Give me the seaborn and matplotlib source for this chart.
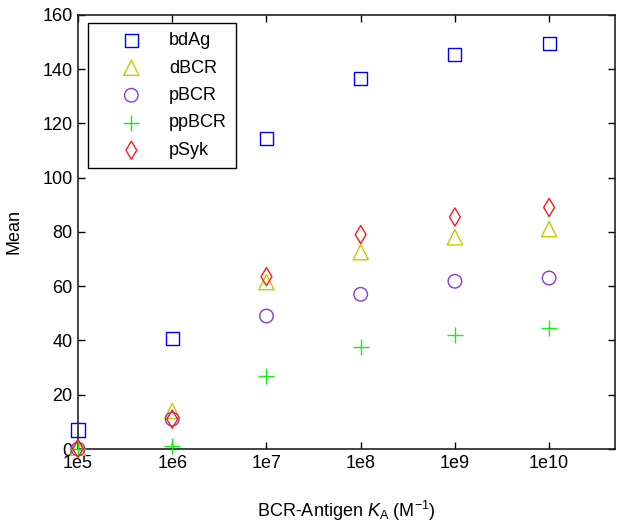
import matplotlib
matplotlib.use("Agg")
import matplotlib.pyplot as plt
import matplotlib.ticker as ticker
import pandas as pd
import seaborn as sns

ka = [1e5, 1e6, 1e7, 1e8, 1e9, 1e10]
tick_labels = ['1e5', '1e6', '1e7', '1e8', '1e9', '1e10']

bdAg = [7, 40.8, 114.5, 136.5, 145.5, 149.5]
dBCR = [0.5, 14.0, 61.5, 72.5, 78.0, 81.0]
pBCR = [0.0, 11.0, 49.0, 57.0, 61.8, 63.0]
ppBCR = [0.0, 1.0, 27.0, 37.5, 42.0, 44.5]
pSyk = [0.2, 11.0, 63.5, 79.0, 85.5, 89.0]

names = ['bdAg', 'dBCR', 'pBCR', 'ppBCR', 'pSyk']
series = [bdAg, dBCR, pBCR, ppBCR, pSyk]
colors = ['#0000ff', '#c8c800', '#8a3ad6', '#11ee11', '#ff1a1a']
markers = ['s', '^', 'o', '+', 'd']
sizes = [90, 120, 95, 120, 85]

sns.set_style('ticks')
plt.rcParams['font.family'] = ['Liberation Sans', 'DejaVu Sans']
plt.rcParams['mathtext.fontset'] = 'custom'
plt.rcParams['mathtext.rm'] = 'Liberation Sans'
plt.rcParams['mathtext.it'] = 'Liberation Sans:italic'
plt.rcParams['text.color'] = 'black'
plt.rcParams['axes.labelcolor'] = 'black'
plt.rcParams['xtick.color'] = 'black'
plt.rcParams['ytick.color'] = 'black'

fig = plt.figure(figsize=(6.22, 5.27), dpi=100)
ax = fig.add_axes([0.1254, 0.148, 0.8633, 0.824])

for name, vals, c, m, s in zip(names, series, colors, markers, sizes):
    dt = pd.DataFrame({'ka': ka, 'value': vals})
    if m == '+':
        sns.scatterplot(data=dt, x='ka', y='value', marker=m, s=s, color=c,
                        linewidth=1.0, ax=ax, label=name, clip_on=False, zorder=3)
    else:
        sns.scatterplot(data=dt, x='ka', y='value', marker=m, s=s,
                        facecolors='none', edgecolor=c, linewidth=1.0,
                        ax=ax, label=name, clip_on=False, zorder=3)

ax.set_xscale('log')
ax.set_xlim(1e5, 5e10)
ax.set_ylim(0, 160)
ax.set_xticks(ka)
ax.set_xticklabels(tick_labels)
ax.xaxis.set_minor_locator(ticker.NullLocator())
ax.set_yticks(range(0, 161, 20))

ax.tick_params(direction='in', top=True, right=True, length=5, width=1,
               labelsize=13, pad=4)
for sp in ax.spines.values():
    sp.set_visible(True)
    sp.set_linewidth(1.2)
    sp.set_color('#222222')

ax.set_xlabel('BCR-Antigen $K_{\\mathrm{A}}$ (M$^{-1}$)', fontsize=13, labelpad=20)
ax.set_ylabel('Mean', fontsize=13, labelpad=14)

leg = ax.legend(loc='upper left', bbox_to_anchor=(0.0186, 0.981), fontsize=13,
                frameon=True, fancybox=False, edgecolor='black', framealpha=1,
                borderaxespad=0, handlelength=3.8, handletextpad=0.2,
                labelspacing=0.58, borderpad=0.5)
leg.get_frame().set_linewidth(1.0)

fig.savefig('out.png', dpi=100)
